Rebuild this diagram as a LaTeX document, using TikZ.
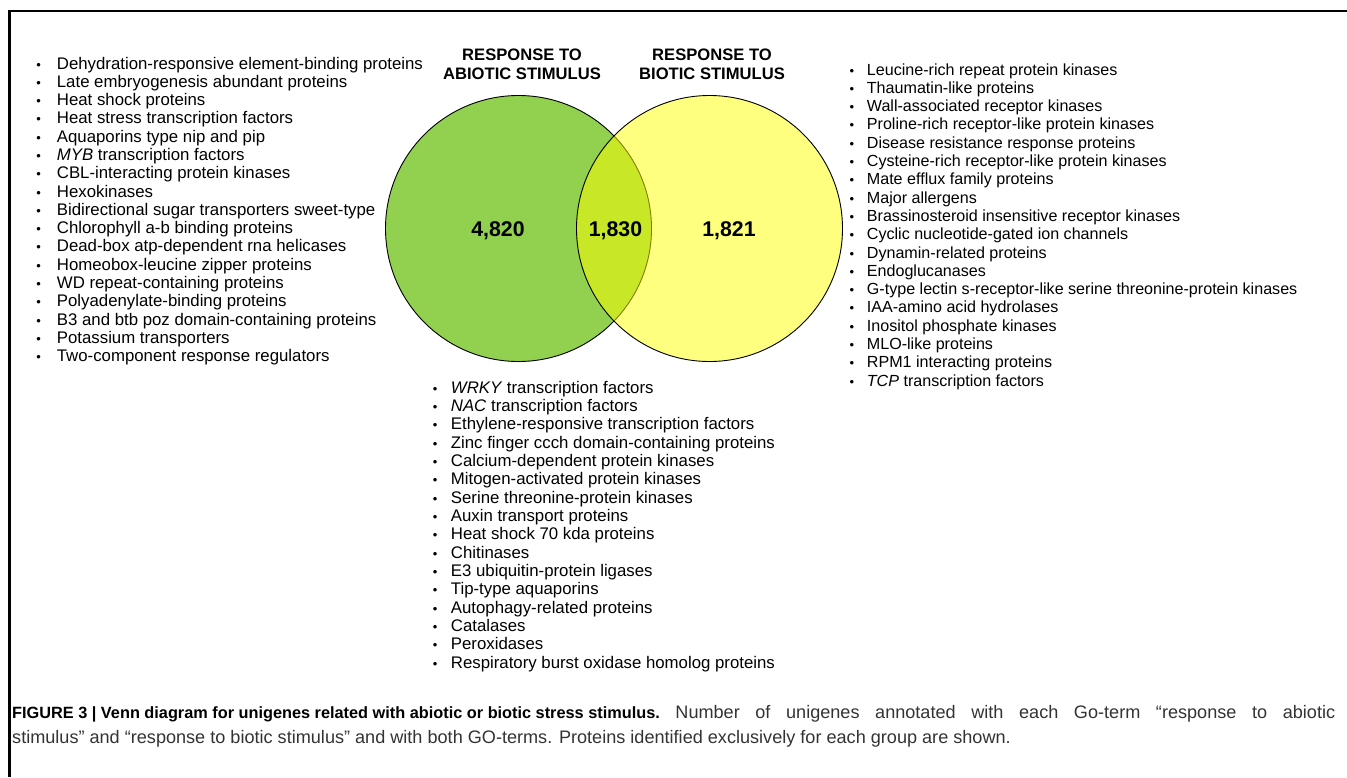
\documentclass[tikz,border=0pt]{standalone}
\usepackage{fontspec}
\setmainfont{Liberation Sans}
\definecolor{abioticgreen}{HTML}{92D050}
\definecolor{bioticyellow}{HTML}{FFFF00}
\newcommand{\bulletwd}{18pt}
\newcommand{\itm}[1]{\makebox[\bulletwd][l]{\fontsize{13}{13}\selectfont\textbullet}#1}
\begin{document}
\begin{tikzpicture}[x=1pt,y=-1pt]
	\tikzset{setcircle/.style = {circle,draw=black,line width=0.9pt,minimum size=266pt,inner sep=0pt}}
	\tikzset{settitle/.style = {align=center,font=\fontsize{16.6}{19.3}\selectfont\bfseries}}
	\tikzset{count/.style = {anchor=base,font=\fontsize{21.3}{26}\selectfont\bfseries}}
	\tikzset{protlist/.style = {anchor=north west,align=left,inner sep=0pt}}
	\useasboundingbox (0,0) rectangle (1347,777);
	% frame
	\draw[line width=2.5pt] (1347,11) -- (9.5,11) -- (9.5,777);
	% the two sets
	\node[setcircle,fill=abioticgreen] (abiotic) at (518.5,228.5) {};
	\node[setcircle,fill=bioticyellow,fill opacity=0.5] (biotic) at (709.5,228.5) {};
	\node[settitle] (abiotictitle) at (522,64.5) {RESPONSE TO\\ABIOTIC STIMULUS};
	\node[settitle] (biotictitle) at (712,64.5) {RESPONSE TO\\BIOTIC STIMULUS};
	\node[count] (abioticonly) at (498,236) {4,820};
	\node[count] (both) at (615.5,236) {1,830};
	\node[count] (bioticonly) at (729,236) {1,821};
	% proteins of each group
	\node[protlist,font={\def\bulletwd{20.5pt}\fontsize{16.8}{18.28}\selectfont}] (abioticlist) at (36.2,56.7) {%
		\itm{Dehydration-responsive element-binding proteins}\\
		\itm{Late embryogenesis abundant proteins}\\
		\itm{Heat shock proteins}\\
		\itm{Heat stress transcription factors}\\
		\itm{Aquaporins type nip and pip}\\
		\itm{\textit{MYB} transcription factors}\\
		\itm{CBL-interacting protein kinases}\\
		\itm{Hexokinases}\\
		\itm{Bidirectional sugar transporters sweet-type}\\
		\itm{Chlorophyll a-b binding proteins}\\
		\itm{Dead-box atp-dependent rna helicases}\\
		\itm{Homeobox-leucine zipper proteins}\\
		\itm{WD repeat-containing proteins}\\
		\itm{Polyadenylate-binding proteins}\\
		\itm{B3 and btb poz domain-containing proteins}\\
		\itm{Potassium transporters}\\
		\itm{Two-component response regulators}};
	\node[protlist,font={\def\bulletwd{17.3pt}\fontsize{16.1}{18.3}\selectfont}] (bioticlist) at (849.4,63.2) {%
		\itm{Leucine-rich repeat protein kinases}\\
		\itm{Thaumatin-like proteins}\\
		\itm{Wall-associated receptor kinases}\\
		\itm{Proline-rich receptor-like protein kinases}\\
		\itm{Disease resistance response proteins}\\
		\itm{Cysteine-rich receptor-like protein kinases}\\
		\itm{Mate efflux family proteins}\\
		\itm{Major allergens}\\
		\itm{Brassinosteroid insensitive receptor kinases}\\
		\itm{Cyclic nucleotide-gated ion channels}\\
		\itm{Dynamin-related proteins}\\
		\itm{Endoglucanases}\\
		\itm{G-type lectin s-receptor-like serine threonine-protein kinases}\\
		\itm{IAA-amino acid hydrolases}\\
		\itm{Inositol phosphate kinases}\\
		\itm{MLO-like proteins}\\
		\itm{RPM1 interacting proteins}\\
		\itm{\textit{TCP} transcription factors}};
	\node[protlist,font={\def\bulletwd{18pt}\fontsize{16.8}{18.33}\selectfont}] (bothlist) at (432.7,380.7) {%
		\itm{\textit{WRKY} transcription factors}\\
		\itm{\textit{NAC} transcription factors}\\
		\itm{Ethylene-responsive transcription factors}\\
		\itm{Zinc finger ccch domain-containing proteins}\\
		\itm{Calcium-dependent protein kinases}\\
		\itm{Mitogen-activated protein kinases}\\
		\itm{Serine threonine-protein kinases}\\
		\itm{Auxin transport proteins}\\
		\itm{Heat shock 70 kda proteins}\\
		\itm{Chitinases}\\
		\itm{E3 ubiquitin-protein ligases}\\
		\itm{Tip-type aquaporins}\\
		\itm{Autophagy-related proteins}\\
		\itm{Catalases}\\
		\itm{Peroxidases}\\
		\itm{Respiratory burst oxidase homolog proteins}};
	% caption
	\node[anchor=north west,align=left,inner sep=0pt,text=black!80,font=\fontsize{18.1}{25}\selectfont] (caption) at (12,705) {%
		\makebox[1323pt][s]{\mbox{\textcolor{black}{\fontsize{16.3}{25}\selectfont\bfseries FIGURE 3 | Venn diagram for unigenes related with abiotic or biotic stress stimulus.}} Number of unigenes annotated with each Go-term ``response to abiotic}\\
		stimulus'' and ``response to biotic stimulus'' and with both GO-terms. Proteins identified exclusively for each group are shown.};
\end{tikzpicture}
\end{document}
